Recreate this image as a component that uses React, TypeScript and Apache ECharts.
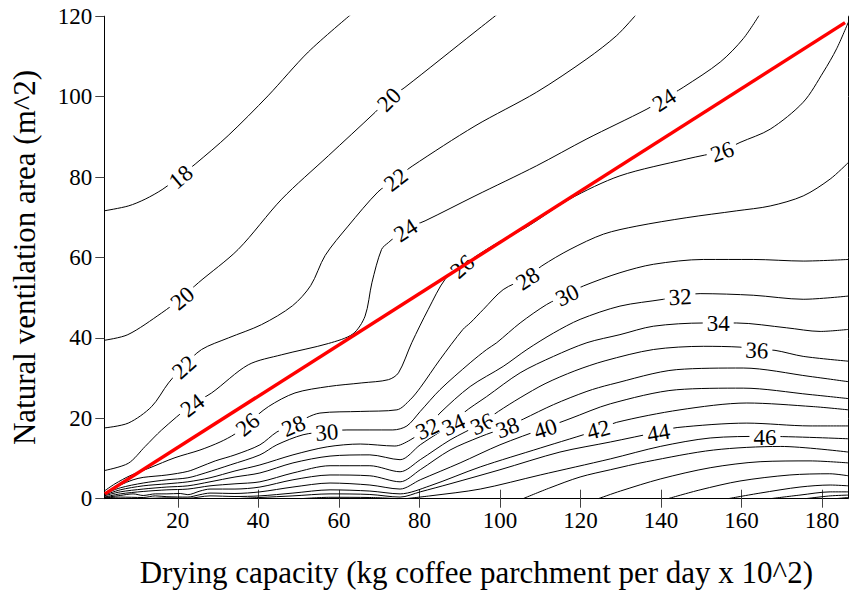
import React, { useEffect, useRef } from "react";
import * as echarts from "echarts";

const X_MIN = 1.75;
const X_MAX = 186.5;
const xTicks = [20, 40, 60, 80, 100, 120, 140, 160, 180];

// contour lines: [drying capacity, ventilation area]
const c18 = [[1.75,71.6],[7.7,72.8],[11.9,74.5],[16.3,77.0],[20.6,80.3],[24.3,83.2],[32.5,90.3],[42.4,100.2],[52.4,111.1],[63.2,120.6]];
const c20 = [[1.75,39.4],[7.6,40.8],[16.0,46.2],[21.0,50.0],[25.1,53.7],[35.0,62.0],[45.8,74.5],[57.4,85.3],[69.0,96.1],[72.3,99.4],[76.4,102.3],[93.8,116.1],[99.5,120.6]];
const c22 = [[1.75,17.6],[7.7,18.8],[13.5,22.9],[17.7,28.8],[21.4,32.9],[25.9,37.1],[32.6,40.0],[40.8,43.3],[48.5,48.0],[53.0,53.0],[56.6,60.5],[62.3,67.8],[69.7,76.3],[74.0,79.5],[78.2,82.7],[93.8,92.7],[109.1,101.1],[121.6,109.4],[129.0,115.2],[134.0,120.6]];
const c24 = [[1.75,7.0],[7.7,8.8],[11.9,13.0],[16.0,17.1],[23.5,23.4],[28.4,26.3],[37.5,33.3],[45.8,35.8],[57.4,38.6],[63.5,41.0],[66.5,45.4],[68.2,53.7],[70.6,62.0],[72.3,63.7],[76.4,67.0],[81.4,69.1],[93.8,75.3],[109.1,82.8],[121.6,89.5],[136.5,96.9],[140.6,99.4],[145.5,102.3],[154.7,108.6],[160.4,114.4],[164.6,120.6]];
const c26 = [[1.75,1.9],[4.4,3.7],[8.1,5.7],[13.1,7.7],[19.3,10.2],[25.5,12.1],[30.5,14.1],[34.2,16.1],[37.2,18.6],[42.5,22.9],[49.1,26.3],[57.4,27.9],[65.7,28.8],[72.3,29.6],[74.8,31.3],[78.1,38.8],[82.2,47.1],[86.4,54.6],[90.5,57.9],[98.8,63.3],[106.7,67.6],[117.3,74.5],[129.8,80.3],[146.4,84.5],[155.1,86.5],[159.6,88.6],[167.1,91.9],[175.3,98.6],[180.3,106.1],[183.6,111.9],[186.5,118.5]];
const c28 = [[1.75,1.4],[5.7,3.4],[8.9,4.7],[11.4,5.3],[17.3,5.9],[22.5,6.8],[25.5,7.9],[29.3,9.4],[34.2,10.9],[40.4,13.4],[44.6,16.6],[48.6,18.4],[55.3,21.3],[65.3,21.7],[74.4,22.1],[77.7,24.6],[80.2,27.6],[85.1,34.6],[90.8,42.1],[92.6,43.7],[95.9,47.1],[100.8,52.0],[106.7,55.0],[110.4,57.9],[117.4,62.0],[125.7,65.8],[134.0,67.8],[146.4,69.9],[158.8,71.6],[167.1,72.8],[175.3,75.3],[182.0,79.5],[186.5,83.6]];
const c30 = [[1.75,1.2],[5.7,2.7],[11.4,3.9],[17.3,4.7],[22.5,5.2],[26.8,6.4],[33.0,8.4],[40.4,10.9],[44.6,13.4],[51.1,15.9],[57.1,16.7],[62.0,17.1],[73.4,17.1],[76.9,18.1],[80.2,21.7],[85.1,27.1],[92.6,33.8],[96.7,37.1],[99.2,38.8],[105.0,43.7],[111.6,48.3],[116.6,50.8],[120.7,52.9],[129.8,56.2],[138.1,58.3],[150.5,59.5],[162.9,59.5],[175.3,59.1],[186.5,59.5]];
const c32 = [[1.75,0.9],[5.7,2.2],[11.4,3.2],[17.3,3.7],[22.5,4.2],[28.0,5.2],[34.2,6.9],[40.4,8.4],[48.6,10.9],[57.1,12.9],[65.3,13.6],[73.9,13.1],[77.7,14.6],[81.9,17.6],[85.1,21.3],[92.6,27.9],[100.8,32.9],[106.7,37.1],[113.3,41.2],[119.9,44.6],[129.8,47.9],[140.6,49.6],[144.7,50.4],[149.7,51.0],[162.9,50.6],[175.3,49.6],[186.5,50.4]];
const c34 = [[1.75,0.7],[5.7,1.7],[11.4,2.4],[17.3,2.9],[22.5,3.2],[28.0,4.2],[34.2,5.4],[40.4,6.4],[48.6,8.9],[57.8,10.6],[67.7,10.9],[75.2,9.7],[80.2,13.4],[85.1,16.6],[88.4,18.4],[90.9,21.3],[96.7,25.4],[105.0,31.3],[113.3,35.4],[121.6,38.8],[129.8,40.8],[138.1,42.9],[150.5,43.7],[158.8,43.7],[171.2,42.5],[179.5,41.6],[186.5,42.1]];
const c36 = [[1.75,0.4],[5.7,1.2],[11.4,1.8],[17.3,2.2],[22.5,2.4],[28.0,3.2],[34.2,3.7],[40.4,4.2],[48.6,6.4],[57.8,8.2],[67.7,8.2],[75.2,6.7],[80.2,9.7],[87.6,14.6],[95.5,18.8],[99.6,21.7],[105.0,25.1],[111.2,28.6],[118.6,31.8],[126.1,34.3],[138.1,37.1],[150.5,37.9],[159.6,37.7],[163.8,37.1],[168.3,36.9],[175.3,35.4],[186.5,34.2]];
const c38 = [[1.75,0.3],[5.7,0.8],[8.9,1.2],[11.4,0.8],[14.4,1.2],[17.3,1.2],[20.6,1.3],[22.5,1.0],[25.5,1.9],[28.0,2.4],[34.2,2.4],[40.4,2.9],[48.6,4.7],[57.8,5.9],[67.7,5.7],[75.2,4.2],[80.2,7.2],[87.6,12.1],[95.1,15.4],[101.8,17.9],[105.8,19.8],[113.3,23.4],[121.6,26.7],[127.4,28.4],[143.9,32.1],[160.4,32.5],[177.0,30.4],[186.5,29.1]];
const c40 = [[1.75,0.2],[5.7,0.4],[11.4,0.3],[14.4,0.7],[17.3,0.5],[22.5,0.4],[25.5,1.0],[28.0,1.4],[34.2,1.3],[40.4,1.7],[48.6,2.9],[57.8,3.9],[67.7,3.4],[75.2,2.4],[80.2,4.7],[90.1,8.9],[100.0,13.4],[111.2,17.6],[117.4,19.9],[127.4,23.6],[143.9,27.1],[160.4,27.5],[177.0,25.9],[186.5,24.9]];
const c42 = [[1.75,0.1],[11.4,0.05],[17.3,0.2],[22.5,0.1],[28.0,0.7],[34.2,0.55],[40.4,0.7],[48.6,1.4],[57.8,2.2],[67.7,1.9],[75.2,1.2],[82.6,3.2],[95.1,7.9],[110.0,12.6],[124.4,17.1],[129.0,19.0],[144.7,22.1],[161.3,23.8],[177.8,22.9],[186.5,22.1]];
const c44 = [[34.2,0],[40.4,0.3],[48.6,0.7],[57.8,1.2],[67.7,1.05],[75.2,0.4],[80.2,1.7],[87.6,3.7],[100.0,7.2],[114.9,11.6],[127.4,14.1],[139.3,16.6],[144.0,17.7],[161.3,18.8],[177.0,18.1],[186.5,18.1]];
const c46a = [[50.4,0],[57.8,0.35],[67.7,0.3],[74.7,0]];
const c46b = [[76.5,0],[82.6,0.7],[95.1,2.4],[110.0,5.9],[127.4,9.9],[139.8,13.0],[152.2,15.1],[165.9,15.5],[186.5,14.9]];
const c48 = [[105.7,0],[112.4,2.7],[119.9,5.4],[127.4,7.2],[136.4,9.2],[153.0,12.1],[169.6,13.0],[186.5,11.6]];
const c50 = [[124.4,0],[129.9,1.9],[139.8,4.9],[152.2,7.7],[164.6,9.2],[177.0,9.4],[186.5,8.9]];
const c52 = [[141.7,0],[149.7,2.2],[159.6,4.4],[172.0,5.9],[181.9,6.2],[186.5,5.7]];
const c54 = [[156.6,0],[164.6,1.4],[174.5,2.9],[182.0,3.4],[186.5,3.2]];
const c56 = [[167.1,0],[174.5,0.9],[182.0,1.7],[186.5,1.7]];
const c58 = [[175.8,0],[182.0,0.7],[186.5,0.9]];
const c60 = [[183.2,0],[186.5,0.3]];

const contourLines = [c18, c20, c22, c24, c26, c28, c30, c32, c34, c36, c38, c40, c42, c44, c46a, c46b, c48, c50, c52, c54, c56, c58, c60];

// red reference line
const redLine = [[1.9, 1.2], [185.7, 118.4]];

// contour labels: [level, x, y]
const contourLabels = [
  [18, 20.6, 80.2], [20, 21.0, 50.0], [20, 72.3, 99.4], [22, 21.4, 32.9], [22, 74.0, 79.5],
  [24, 23.5, 23.4], [24, 76.4, 67.0], [24, 140.6, 99.4], [26, 37.2, 18.6], [26, 90.5, 57.9],
  [26, 155.1, 86.5], [28, 48.6, 18.4], [28, 106.7, 55.0], [30, 57.0, 16.7], [30, 116.6, 50.8],
  [32, 81.9, 17.6], [32, 144.7, 50.4], [34, 88.4, 18.6], [34, 154.2, 43.7], [36, 95.5, 18.8],
  [36, 163.8, 37.1], [38, 101.8, 17.9], [40, 111.2, 17.6], [42, 124.4, 17.4], [44, 139.3, 16.6],
  [46, 165.8, 15.5],
];
const labelAngles = [40, 40, 45, 42, 38, 37, 33, 33, 40, 42, 20, 24, 33, 5, 26, 25, 3, 25, 0, 25, -3, 20, 18, 15, 10, 0];

const FONT = "Liberation Serif";

export default function App() {
  const ref = useRef<HTMLDivElement>(null);
  useEffect(() => {
    if (!ref.current) return;
    const chart = echarts.init(ref.current, null, { renderer: "svg" });
    const axisLine = { show: true, lineStyle: { color: "#000", width: 1 } };
    const tick = { show: true, inside: false, length: 9, lineStyle: { color: "#444", width: 1 } };
    const series: any[] = contourLines.map((pts) => ({
      type: "line",
      data: pts,
      symbol: "none",
      smooth: 0.3,
      silent: true,
      z: 2,
      lineStyle: { color: "#000", width: 1 },
    }));
    series.push({
      type: "custom",
      silent: true,
      z: 4,
      clip: false,
      data: contourLabels.map((l, i) => [l[1], l[2], l[0], labelAngles[i]]),
      encode: { x: 0, y: 1 },
      renderItem: (params: any, api: any) => {
        const p = api.coord([api.value(0), api.value(1)]);
        const txt = String(api.value(2));
        const w = txt.length * 11.5 + 8;
        const h = 19;
        return {
          type: "group",
          x: p[0],
          y: p[1],
          rotation: (api.value(3) * Math.PI) / 180,
          children: [
            {
              type: "rect",
              shape: { x: -w / 2, y: -h / 2, width: w, height: h },
              style: { fill: "#fff" },
            },
            {
              type: "text",
              x: 0,
              y: 1,
              style: {
                text: txt,
                fontSize: 23,
                fontFamily: "serif",
                fontWeight: "normal",
                fill: "#000",
                align: "center",
                verticalAlign: "middle",
              },
            },
          ],
        };
      },
    });
    series.push({
      type: "line",
      data: redLine,
      symbol: "none",
      silent: true,
      z: 6,
      lineStyle: { color: "#ff0000", width: 3.5 },
    });
    chart.setOption({
      animation: false,
      backgroundColor: "#fff",
      grid: { left: 104.3, right: 0.7, top: 16.2, bottom: 92.3, containLabel: false, outerBoundsMode: "none" },
      xAxis: [
        {
          type: "value",
          position: "bottom",
          min: X_MIN,
          max: X_MAX,
          axisLine,
          axisTick: { ...tick, customValues: xTicks },
          axisLabel: { customValues: xTicks, fontSize: 23, fontFamily: FONT, color: "#000", margin: 10 },
          splitLine: { show: false },
          name: "Drying capacity (kg coffee parchment per day x 10^2)",
          nameLocation: "middle",
          nameGap: 58,
          nameTextStyle: { fontSize: 31, fontFamily: FONT, color: "#000" },
        },
        {
          type: "value",
          position: "top",
          min: X_MIN,
          max: X_MAX,
          axisLine,
          axisTick: { ...tick, customValues: xTicks },
          axisLabel: { show: false },
          splitLine: { show: false },
        },
      ],
      yAxis: [
        {
          type: "value",
          position: "left",
          min: 0,
          max: 120,
          interval: 20,
          axisLine,
          axisTick: tick,
          axisLabel: { fontSize: 23, fontFamily: FONT, color: "#000", margin: 12 },
          splitLine: { show: false },
          name: "Natural ventilation area (m^2)",
          nameLocation: "middle",
          nameGap: 64,
          nameRotate: 90,
          nameTextStyle: { fontSize: 31, fontFamily: FONT, color: "#000" },
        },
        {
          type: "value",
          position: "right",
          min: 0,
          max: 120,
          interval: 20,
          axisLine,
          axisTick: tick,
          axisLabel: { show: false },
          splitLine: { show: false },
        },
      ],
      series,
    });
    return () => chart.dispose();
  }, []);
  return (
    <div
      ref={ref}
      style={{ position: "fixed", left: 0, top: 0, width: 849, height: 591, background: "#fff" }}
    />
  );
}
